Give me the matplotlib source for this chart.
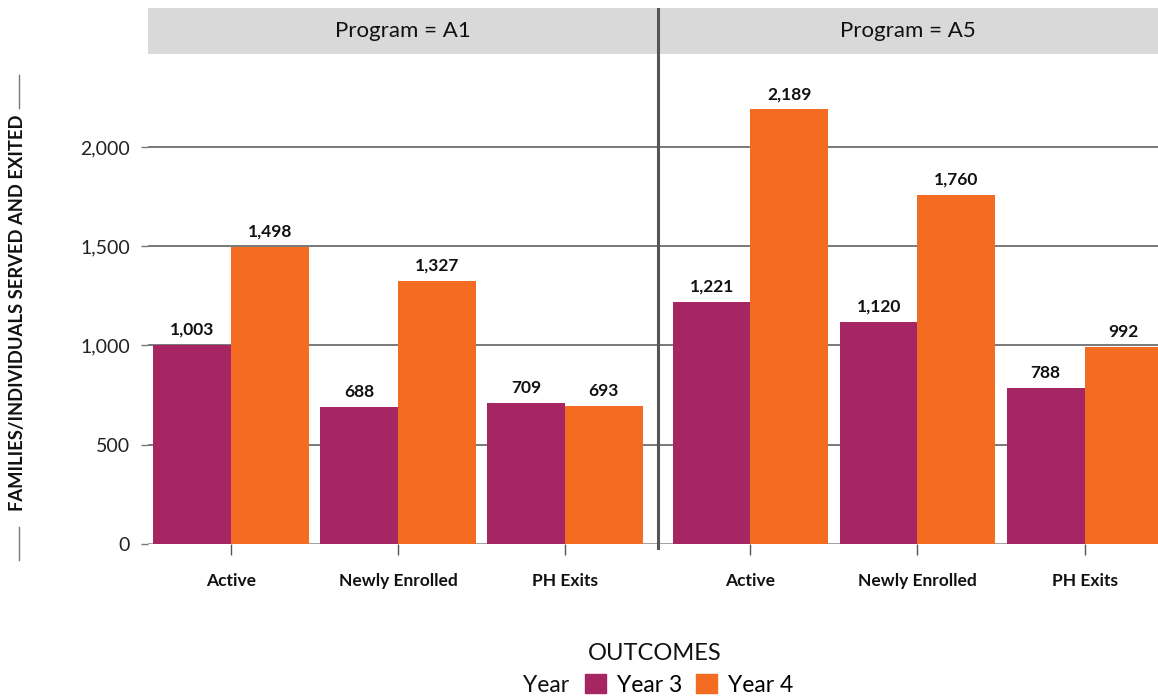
import matplotlib
matplotlib.use("Agg")
import matplotlib.pyplot as plt
from matplotlib.lines import Line2D
from matplotlib.patches import Patch
import numpy as np

programs = ["A1", "A5"]
categories = ["Active", "Newly Enrolled", "PH Exits"]
year3_a1 = [1003, 688, 709]
year4_a1 = [1498, 1327, 693]
year3_a5 = [1221, 1120, 788]
year4_a5 = [2189, 1760, 992]
y_ticks = [0, 500, 1000, 1500, 2000]

c3 = "#A52662"
c4 = "#F36C22"

plt.rcParams['font.family'] = ['Lato', 'DejaVu Sans']

W, H = 1158, 698
fig = plt.figure(figsize=(W / 100, H / 100), dpi=100)

def fx(px):
    return px / W

def fy(py):
    return 1 - py / H

ax = fig.add_axes([fx(148), fy(544), fx(1158) - fx(148), fy(54) - fy(544)])

offset = 3.11
bw = 0.465
pos_a1 = np.arange(3)
pos_a5 = np.arange(3) + offset

for pos, v3, v4 in [(pos_a1, year3_a1, year4_a1), (pos_a5, year3_a5, year4_a5)]:
    b3 = ax.bar(pos - bw / 2, v3, width=bw, color=c3, zorder=3)
    b4 = ax.bar(pos + bw / 2, v4, width=bw, color=c4, zorder=3)
    for bars in (b3, b4):
        for r in bars:
            ax.annotate(f"{r.get_height():,.0f}", (r.get_x() + r.get_width() / 2, r.get_height()),
                        xytext=(0, 5), textcoords="offset points", ha="center", va="bottom",
                        fontsize=12.5, fontweight="bold", color="#111111", zorder=4)

ax.set_xlim(-0.497, 5.55)
ax.set_ylim(0, 2468)
ax.set_yticks(y_ticks)
ax.set_yticklabels([f"{t:,}" for t in y_ticks], fontsize=14, color="#222222")
ax.set_xticks(list(pos_a1) + list(pos_a5))
ax.set_xticklabels(categories * 2, fontsize=12.5, fontweight="bold", color="#111111")
ax.tick_params(axis="x", length=8, width=1, color="#555555", pad=13)
ax.tick_params(axis="y", length=5, width=1, color="#777777", pad=8)
for s in ax.spines.values():
    s.set_visible(False)
ax.grid(axis="y", color="#555555", linewidth=1.1, zorder=0)
ax.axhline(0, color="#aaaaaa", linewidth=1.2, zorder=2)

sep = 2.557
ax.plot([sep, sep], [-0.008, 1.0], transform=ax.get_xaxis_transform(), color="#555555",
        linewidth=2.2, clip_on=False, zorder=5)

hdr = fig.add_axes([fx(148), fy(54), fx(1158) - fx(148), fy(8) - fy(54)])
hdr.set_xlim(ax.get_xlim())
hdr.set_ylim(0, 1)
hdr.set_facecolor("#d9d9d9")
hdr.set_xticks([])
hdr.set_yticks([])
for s in hdr.spines.values():
    s.set_visible(False)
hdr.axvline(sep, color="#555555", linewidth=2.2)
left_c = (-0.497 + sep) / 2
right_c = (sep + 5.55) / 2
hdr.text(left_c, 0.5, f"Program = {programs[0]}", ha="center", va="center", fontsize=16, color="#111111")
hdr.text(right_c, 0.5, f"Program = {programs[1]}", ha="center", va="center", fontsize=16, color="#111111")

fig.text(fx(18), fy(313), "FAMILIES/INDIVIDUALS SERVED AND EXITED", rotation=90, ha="center", va="center",
         fontsize=13.2, fontweight="bold", color="#111111")
fig.add_artist(Line2D([fx(19), fx(19)], [fy(75), fy(108)], color="#777777", linewidth=1))
fig.add_artist(Line2D([fx(19), fx(19)], [fy(527), fy(560)], color="#777777", linewidth=1))

fig.text(fx(655), fy(654), "OUTCOMES", ha="center", va="center", fontsize=17, color="#111111")
fig.text(fx(569), fy(685), "Year", ha="right", va="center", fontsize=16.5, color="#111111")
handles = [Patch(color=c3, label="Year 3"), Patch(color=c4, label="Year 4")]
fig.legend(handles=handles, loc="center left", bbox_to_anchor=(fx(585), fy(685)), ncol=2, frameon=False,
           fontsize=16.5, handlelength=0.9, handleheight=0.9, handletextpad=0.5, columnspacing=0.6,
           borderpad=0, borderaxespad=0)

fig.savefig("out.png", dpi=100)
